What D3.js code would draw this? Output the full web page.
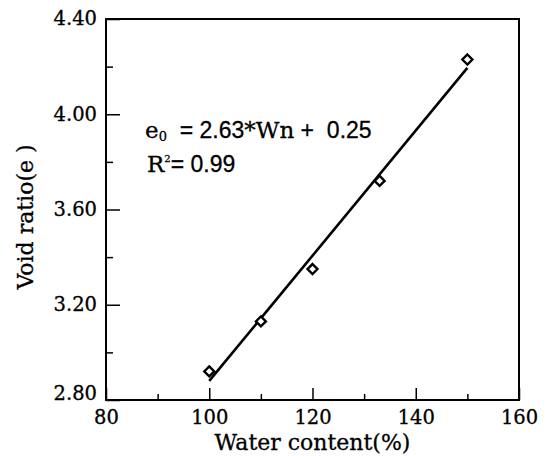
<!DOCTYPE html>
<html>
<head>
<meta charset="utf-8">
<script src="https://cdn.jsdelivr.net/npm/d3@7"></script>
<style>
  body { margin: 0; background: #fff; }
  text { font-family: 'DejaVu Serif', serif; fill: #000; stroke: #000; stroke-width: 0.3px; white-space: pre; }
  .sans { font-family: 'Liberation Sans', Arial, sans-serif; }
</style>
</head>
<body>
<div id="chart"></div>
<script>
// measured points
const waterContent = [100, 110, 120, 133, 150]
const voidRatio = [2.92, 3.13, 3.35, 3.72, 4.23]

// fitted line e0 = 2.63 * Wn + 0.25 (Wn as a fraction)
const slope = 2.63
const intercept = 0.25
const fitRange = [100, 150]

const xTicks = [80, 100, 120, 140, 160]
const xMinorTicks = [90, 110, 130, 150]
const yTicks = [2.8, 3.2, 3.6, 4.0, 4.4]
const yMinorTicks = [3.0, 3.4, 3.8, 4.2]

const margin = { top: 19, right: 32, bottom: 56, left: 106 }
const width = 551 - margin.left - margin.right
const height = 456 - margin.top - margin.bottom

const svg = d3
  .select('#chart')
  .append('svg')
  .attr('width', 551)
  .attr('height', 456)
  .append('g')
  .attr('transform', 'translate(' + margin.left + ',' + margin.top + ')')

const x = d3.scaleLinear().domain([80, 160]).range([0, width])
const y = d3.scaleLinear().domain([2.8, 4.4]).range([height, 0])

// frame
svg
  .append('rect')
  .attr('width', width)
  .attr('height', height)
  .attr('fill', 'none')
  .attr('stroke', '#000')
  .attr('stroke-width', 2)

// x axis
const xAxis = d3
  .axisBottom(x)
  .tickValues(xTicks)
  .tickSizeInner(-12)
  .tickSizeOuter(0)
  .tickPadding(9)
const xg = svg
  .append('g')
  .attr('transform', 'translate(0,' + height + ')')
  .call(xAxis)
xg.select('.domain').remove()
xg.selectAll('line').attr('stroke-width', 1.5)
xg.selectAll('text').attr('font-size', 19.5).attr('dy', '0.78em')

const xMinor = svg
  .append('g')
  .attr('transform', 'translate(0,' + height + ')')
  .call(d3.axisBottom(x).tickValues(xMinorTicks).tickSize(-6).tickFormat(''))
xMinor.select('.domain').remove()
xMinor.selectAll('line').attr('stroke-width', 1.5)

// y axis
const yAxis = d3
  .axisLeft(y)
  .tickValues(yTicks)
  .tickSizeInner(-14)
  .tickSizeOuter(0)
  .tickPadding(9)
  .tickFormat(d3.format('.2f'))
const yg = svg.append('g').call(yAxis)
yg.select('.domain').remove()
yg.selectAll('line').attr('stroke-width', 1.5)
yg.selectAll('text')
  .attr('font-size', 19.5)
  .attr('dy', d => (d === 2.8 ? '-0.05em' : '0.3em'))

const yMinor = svg
  .append('g')
  .call(d3.axisLeft(y).tickValues(yMinorTicks).tickSize(-7).tickFormat(''))
yMinor.select('.domain').remove()
yMinor.selectAll('line').attr('stroke-width', 1.5)

// axis titles
svg
  .append('text')
  .attr('x', x(120))
  .attr('y', height + 50)
  .attr('text-anchor', 'middle')
  .attr('font-size', 22)
  .text('Water content(%)')

svg
  .append('text')
  .attr('transform', 'translate(' + (33 - margin.left) + ',' + (217 - margin.top) + ') rotate(-90)')
  .attr('text-anchor', 'middle')
  .attr('font-size', 22)
  .text('Void ratio(e )')

// fit line
const line = d3
  .line()
  .x(d => x(d))
  .y(d => y(slope * d / 100 + intercept))
svg
  .append('path')
  .datum(fitRange)
  .attr('d', line)
  .attr('fill', 'none')
  .attr('stroke', '#000')
  .attr('stroke-width', 2.6)

// points (open diamonds)
const points = waterContent.map((w, i) => ({ w: w, e: voidRatio[i] }))
svg
  .selectAll('.pt')
  .data(points)
  .enter()
  .append('path')
  .attr('class', 'pt')
  .attr('d', 'M0,-5L5,0L0,5L-5,0Z')
  .attr('transform', d => 'translate(' + x(d.w) + ',' + y(d.e) + ')')
  .attr('fill', '#fff')
  .attr('stroke', '#000')
  .attr('stroke-width', 2.4)

// equation
const eq = svg
  .append('text')
  .attr('x', 145 - margin.left)
  .attr('y', 138 - margin.top)
  .attr('font-size', 23)
eq.append('tspan').text('e')
eq.append('tspan').attr('font-size', 13).attr('dy', 3).text('0')
eq.append('tspan').attr('dy', -3).attr('class', 'sans').text('  = 2.63')
eq.append('tspan').text('*Wn')
eq.append('tspan').attr('class', 'sans').text(' +  0.25')

const r2 = svg
  .append('text')
  .attr('x', 147 - margin.left)
  .attr('y', 172 - margin.top)
  .attr('font-size', 23)
r2.append('tspan').text('R')
r2.append('tspan').attr('font-size', 10).attr('dy', -10).text('2')
r2.append('tspan').attr('dy', 10).attr('class', 'sans').text('= 0.99')
</script>
</body>
</html>
